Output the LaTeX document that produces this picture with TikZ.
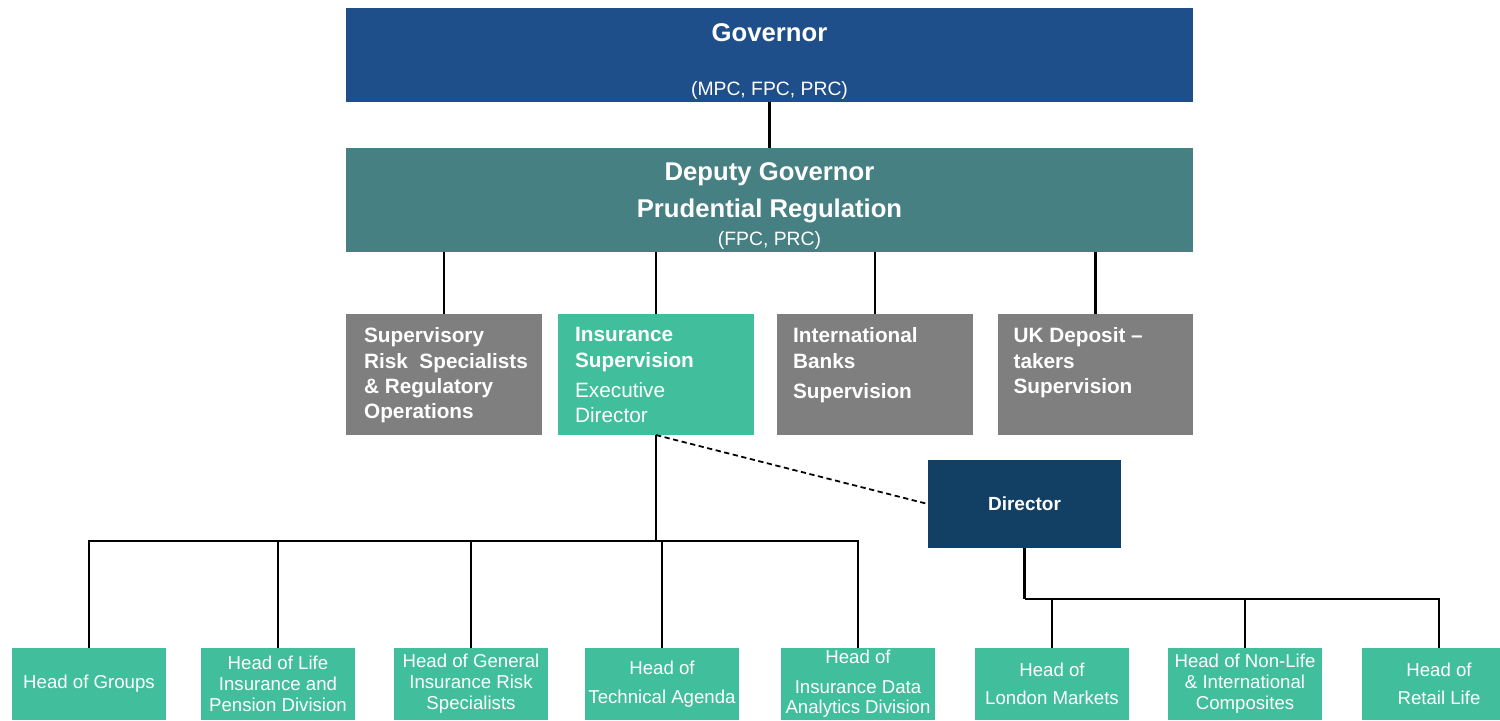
\documentclass[tikz,border=0pt]{standalone}
\usepackage{fontspec}
\setmainfont{Liberation Sans}
\usepackage{xcolor}
\usepackage{tikz}
\usetikzlibrary{positioning,calc}
\definecolor{boeblue}{RGB}{31,79,138}
\definecolor{boeteal}{RGB}{70,128,131}
\definecolor{boegrey}{RGB}{127,127,127}
\definecolor{boegreen}{RGB}{65,190,155}
\definecolor{boenavy}{RGB}{17,64,100}

\begin{document}
\begin{tikzpicture}[x=0.01cm, y=-0.01cm,
    box/.style={draw=none, inner sep=0pt, outer sep=0pt},
    topbox/.style={box, minimum width=8.47cm},
    midbox/.style={box, fill=boegrey, minimum width=1.95cm, minimum height=1.21cm},
    headbox/.style={box, fill=boegreen, minimum width=1.54cm, minimum height=0.72cm,
        text=white, align=center, font=\fontsize{5.3}{6}\selectfont},
    toptext/.style={inner sep=0pt, text=white, font=\bfseries\fontsize{7.3}{8}\selectfont},
    subtext/.style={inner sep=0pt, text=white, font=\fontsize{5.5}{6}\selectfont},
    midtext/.style={anchor=north west, inner sep=0pt, text=white, align=left,
        font=\fontsize{5.9}{7.2}\selectfont},
    conn/.style={black, line width=0.6pt}
]
    \useasboundingbox (0,0) rectangle (1500,720);
    \clip (0,0) rectangle (1500,720);

    % Governor
    \node[topbox, fill=boeblue, minimum height=0.94cm] (gov) at (769.5,55) {};
    \node[toptext] (govname) at ($(gov.north)+(0,25)$) {Governor};
    \node[subtext] (govsub) at ($(gov.south)+(0,-12)$) {(MPC, FPC, PRC)};

    % Deputy Governor
    \node[topbox, fill=boeteal, minimum height=1.04cm] (dep) at (769.5,200) {};
    \node[toptext] (depname) at ($(dep.north)+(0,26)$) {Deputy Governor};
    \node[toptext] (depreg) at ($(dep.north)+(0,63)$) {Prudential Regulation};
    \node[subtext] (depsub) at ($(dep.south)+(0,-12)$) {(FPC, PRC)};

    % Directorates
    \node[midbox] (sup) at (444,374.5) {};
    \node[midbox, fill=boegreen] (ins) at (656,374.5) {};
    \node[midbox] (intl) at (875,374.5) {};
    \node[midbox] (ukd) at (1095.5,374.5) {};

    \node[midtext] (suptxt) at ($(sup.north west)+(17,13)$)
        {\textbf{Supervisory}\\\textbf{Risk\ \ Specialists}\\\textbf{\& Regulatory}\\\textbf{Operations}};
    \node[midtext] (instxt) at ($(ins.north west)+(16,13)$)
        {\textbf{Insurance}\\\textbf{Supervision}\\[1.4pt]Executive\\Director};
    \node[midtext] (intltxt) at ($(intl.north west)+(15,13)$)
        {\textbf{International}\\\textbf{Banks}\\[1.4pt]\textbf{Supervision}};
    \node[midtext] (ukdtxt) at ($(ukd.north west)+(15,13)$)
        {\textbf{UK Deposit --}\\\textbf{takers}\\\textbf{Supervision}};

    % Director
    \node[box, fill=boenavy, minimum width=1.93cm, minimum height=0.88cm, text=white,
        font=\bfseries\fontsize{5.4}{6}\selectfont] (dir) at (1024.5,504) {Director};

    % Heads
    \node[headbox] (hgrp) at (89,684) {Head of Groups};
    \node[headbox] (hlife) at (278,684) {Head of Life\\Insurance and\\Pension Division};
    \node[headbox] (hgen) at (471,684) {Head of General\\Insurance Risk\\Specialists};
    \node[headbox] (htech) at (662,684) {Head of\\[2.3pt]Technical Agenda};
    \node[headbox] (hdata) at (858,684) {Head of\\[2.5pt]Insurance Data\\[-0.3pt]Analytics Division};
    \node[headbox] (hlon) at (1052,684) {Head of\\[2pt]London Markets};
    \node[headbox] (hnon) at (1245,684) {Head of Non-Life\\\& International\\Composites};
    \node[headbox] (hret) at (1439,684) {Head of\\[2pt]Retail Life};

    % Connectors
    \coordinate (insbus) at (ins.south |- 0,541);
    \coordinate (dirbus) at (dir.south |- 0,599);
    \draw[conn] (gov.south) -- (dep.north);
    \foreach \n in {sup,ins,intl,ukd}
        \draw[conn] (dep.south -| \n.north) -- (\n.north);
    \draw[conn] (ins.south) -- (insbus);
    \foreach \n in {hgrp,hlife,hgen,htech,hdata}
        \draw[conn] (\n.north) |- (insbus);
    \draw[conn, line width=0.5pt, dash pattern=on 1.5pt off 1pt] (ins.south) -- (dir.west);
    \draw[conn] (dir.south) -- (dirbus);
    \foreach \n in {hlon,hnon,hret}
        \draw[conn] (\n.north) |- (dirbus);
\end{tikzpicture}
\end{document}
